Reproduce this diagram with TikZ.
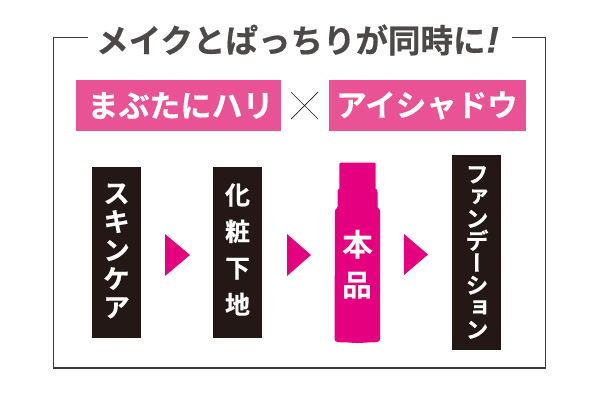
\documentclass[tikz,border=0pt]{standalone}
\usepackage{fontspec}
\setmainfont{Noto Sans CJK JP}[BoldFont={Noto Sans CJK JP Bold},BoldFeatures={FakeBold=0.4}]
\newfontfamily\vcjk{Noto Sans CJK JP}[RawFeature=+vert,BoldFont={Noto Sans CJK JP Bold},BoldFeatures={FakeBold=0.3}]
\newfontfamily\plainjp{Noto Sans CJK JP}[BoldFont={Noto Sans CJK JP Bold}]
\newfontfamily\latinit{Liberation Sans}[BoldItalicFeatures={FakeBold=0.4}]
\definecolor{framec}{HTML}{3E3A39}
\definecolor{titlec}{HTML}{4C4948}
\definecolor{softpink}{HTML}{E95295}
\definecolor{hotpink}{HTML}{E4007F}
\definecolor{nearblack}{HTML}{231815}
\tikzset{
  x=1pt,y=-1pt,
  banner/.style={fill=softpink,inner sep=0pt},
  bannertext/.style={text=white,inner sep=0pt},
  stepbox/.style={fill=nearblack,minimum width=49pt,inner sep=0pt,outer sep=0pt},
  vlabel/.style={text=white,inner sep=0pt,align=center},
  tri/.style={fill=hotpink,draw=none}
}
\begin{document}
\begin{tikzpicture}
\useasboundingbox (0,0) rectangle (600,400);
\fill[white] (0,0) rectangle (600,400);
% frame
\draw[framec,line width=1.1pt] (88,37.5) -- (53.5,37.5) -- (53.5,368) -- (545.5,368) -- (545.5,37.5) -- (512,37.5);
% title
\node[text=titlec,inner sep=0pt,anchor=center,font=\fontsize{32.5}{33}\selectfont\bfseries] (title) at (297.5,40) {メイクとぱっちりが同時に\hspace{1pt}{\latinit\bfseries\itshape\fontsize{37}{37}\selectfont !}};
% banners
\node[banner,minimum width=205pt,minimum height=51pt] (b1) at (178.5,105.5) {};
\node[bannertext,font=\fontsize{31}{31}\selectfont\bfseries] (b1t) at (180.5,105.5) {まぶたにハリ};
\node[banner,minimum width=197pt,minimum height=51pt] (b2) at (427.5,105.5) {};
\node[bannertext,font=\fontsize{30.5}{31}\selectfont\bfseries] (b2t) at (427,105.5) {アイシャドウ};
\coordinate (xa) at (291,92);
\coordinate (xb) at (318,119);
\coordinate (xc) at (291,119);
\coordinate (xd) at (318,92);
\draw[nearblack,line width=0.7pt] (xa) -- (xb) (xc) -- (xd);
% black boxes
\node[stepbox,minimum height=171pt] (s1) at (116.5,252.5) {};
\node[vlabel,font=\vcjk\bfseries\fontsize{27}{28.5}\selectfont] (s1t) at (116.5,251) {ス\\キ\\ン\\ケ\\ア};
\node[stepbox,minimum height=171pt] (s2) at (237.5,252.5) {};
\node[vlabel,font=\vcjk\bfseries\fontsize{25}{36.5}\selectfont] (s2t) at (237.5,249.5) {化\\粧\\下\\地};
\node[stepbox,minimum height=195pt] (s4) at (476.5,252.5) {};
\node[vlabel,font=\vcjk\bfseries\fontsize{23}{22.2}\selectfont] (s4t) at (477,252.5) {フ\\ァ\\ン\\デ\\ー\\シ\\ョ\\ン};
% arrows
\fill[tri] (165,234) -- (190,255) -- (165,276) -- cycle;
\fill[tri] (287,234) -- (311,255) -- (287,276) -- cycle;
\fill[tri] (404,234) -- (428,254.5) -- (404,275) -- cycle;
% bottle
\fill[hotpink] (341,162.5) -- (374,162.5) to[out=0,in=90] (375.7,164.5) -- (375.7,189) -- (376.8,189.5) -- (377.5,192) -- (377.5,207) -- (380,210.5) -- (380,339) to[out=-90,in=0] (372,342.3) to[out=180,in=0] (357.5,343) to[out=180,in=0] (343,342.3) to[out=180,in=-90] (334.5,339) -- (335,210.5) -- (337.5,207) -- (337.5,192) -- (338.2,189.5) -- (339.3,189) -- (339.3,164.5) to[out=90,in=180] (341,162.5) -- cycle;
\node[vlabel,font=\plainjp\bfseries\fontsize{31}{31}\selectfont] (hon) at (357.5,244.5) {本};
\node[vlabel,font=\plainjp\bfseries\fontsize{30}{30}\selectfont] (hin) at (357.5,286) {品};
\end{tikzpicture}
\end{document}
